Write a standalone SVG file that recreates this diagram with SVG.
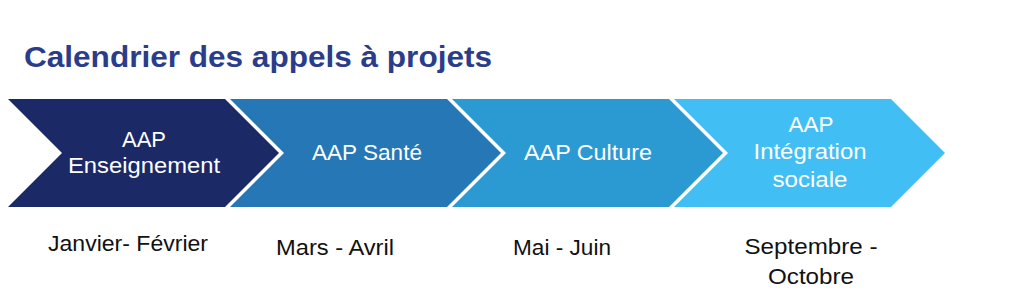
<svg xmlns="http://www.w3.org/2000/svg" width="1025" height="301" viewBox="0 0 1025 301">
<style>
.title{font-family:"Liberation Sans",Arial,sans-serif;font-weight:bold;font-size:29px;fill:#2B3D8A}
.lbl{font-family:"Liberation Sans",Arial,sans-serif;font-size:22.5px;fill:#ffffff;text-anchor:middle}
.date{font-family:"Liberation Sans",Arial,sans-serif;font-size:22.5px;fill:#111111;text-anchor:middle}
</style>
<rect width="1025" height="301" fill="#ffffff"/>
<text class="title" x="24" y="67" textLength="468" lengthAdjust="spacingAndGlyphs">Calendrier des appels à projets</text>
<g id="step1">
<polygon points="8,99 225,99 279,153 225,207 8,207 62,153" fill="#1B2966"/>
<text class="lbl" x="144" y="147" textLength="44" lengthAdjust="spacingAndGlyphs">AAP</text>
<text class="lbl" x="144" y="173" textLength="152" lengthAdjust="spacingAndGlyphs">Enseignement</text>
</g>
<g id="step2">
<polygon points="230,99 447,99 501,153 447,207 230,207 284,153" fill="#2577B5"/>
<text class="lbl" x="367" y="160" textLength="110" lengthAdjust="spacingAndGlyphs">AAP Santé</text>
</g>
<g id="step3">
<polygon points="452,99 669,99 723,153 669,207 452,207 506,153" fill="#2B9AD3"/>
<text class="lbl" x="588" y="160" textLength="128" lengthAdjust="spacingAndGlyphs">AAP Culture</text>
</g>
<g id="step4">
<polygon points="674,99 891,99 945,153 891,207 674,207 728,153" fill="#41BFF5"/>
<text class="lbl" x="811" y="132" textLength="45" lengthAdjust="spacingAndGlyphs">AAP</text>
<text class="lbl" x="810" y="159" textLength="113" lengthAdjust="spacingAndGlyphs">Intégration</text>
<text class="lbl" x="810" y="187" textLength="75" lengthAdjust="spacingAndGlyphs">sociale</text>
</g>
<g id="dates">
<text class="date" x="128" y="251" textLength="160" lengthAdjust="spacingAndGlyphs">Janvier- Février</text>
<text class="date" x="335" y="255" textLength="118" lengthAdjust="spacingAndGlyphs">Mars - Avril</text>
<text class="date" x="562" y="255" textLength="98" lengthAdjust="spacingAndGlyphs">Mai - Juin</text>
<text class="date" x="811" y="254" textLength="133" lengthAdjust="spacingAndGlyphs">Septembre -</text>
<text class="date" x="811" y="284" textLength="86" lengthAdjust="spacingAndGlyphs">Octobre</text>
</g>
<g id="connectors"/>
</svg>
